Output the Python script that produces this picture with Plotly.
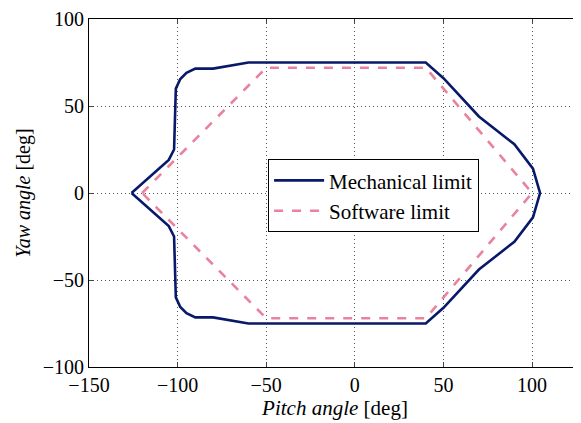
import plotly.graph_objects as go

# Mechanical limit (pitch, yaw) in degrees
mech_pitch = [-126, -105, -102, -101, -98.5, -95, -90, -80, -60, 40, 50, 70, 90, 100.5, 104.5,
              100.5, 90, 70, 50, 40, -60, -80, -90, -95, -98.5, -101, -102, -105, -126]
mech_yaw = [0, 19, 25, 60, 65.5, 69, 71.5, 71.5, 75, 75, 66, 44, 28, 14, 0,
            -14, -28, -44, -66, -75, -75, -71.5, -71.5, -69, -65.5, -60, -25, -19, 0]

# Software limit
soft_pitch = [-120, -50, 40, 100, 40, -50, -120]
soft_yaw = [0, 72, 72, 0, -72, -72, 0]

x_ticks = [-150, -100, -50, 0, 50, 100, 150]
y_ticks = [-100, -50, 0, 50, 100]

fig = go.Figure()
fig.add_trace(go.Scatter(x=mech_pitch, y=mech_yaw, mode="lines", name="Mechanical limit",
                         line=dict(color="#08196a", width=2.6)))
fig.add_trace(go.Scatter(x=soft_pitch, y=soft_yaw, mode="lines", name="Software limit",
                         line=dict(color="#e8829e", width=2.6, dash="dash")))

font_family = "Liberation Serif"
fig.update_layout(
    width=573, height=415,
    margin=dict(l=81, r=0, t=11, b=56),
    paper_bgcolor="white", plot_bgcolor="white",
    font=dict(family=font_family, size=20, color="black"),
    showlegend=True,
    legend=dict(x=0.364, y=0.597, xanchor="left", yanchor="top",
                bgcolor="white", bordercolor="black", borderwidth=1,
                itemwidth=50,
                font=dict(size=21, family=font_family), tracegroupgap=0),
    xaxis=dict(range=[-150, 127.6], tickvals=x_ticks, ticks="inside", ticklen=5,
               showline=True, linecolor="black", linewidth=1, mirror="ticks",
               showgrid=True, gridcolor="#555", griddash="1px,3px", gridwidth=1,
               zeroline=False, tickfont=dict(size=20), automargin=False,
               ticklabeloverflow="allow",
               title=dict(text="<i>Pitch angle</i> [deg]", font=dict(size=21), standoff=0)),
    yaxis=dict(range=[-100, 100], tickvals=y_ticks, ticks="inside", ticklen=5,
               showline=True, linecolor="black", linewidth=1, mirror=False,
               showgrid=True, gridcolor="#555", griddash="1px,3px", gridwidth=1,
               zeroline=False, tickfont=dict(size=20), automargin=False,
               ticklabeloverflow="allow",
               title=dict(text="<i>Yaw angle</i> [deg]", font=dict(size=20), standoff=6)),
)
fig.write_html("out.html")
